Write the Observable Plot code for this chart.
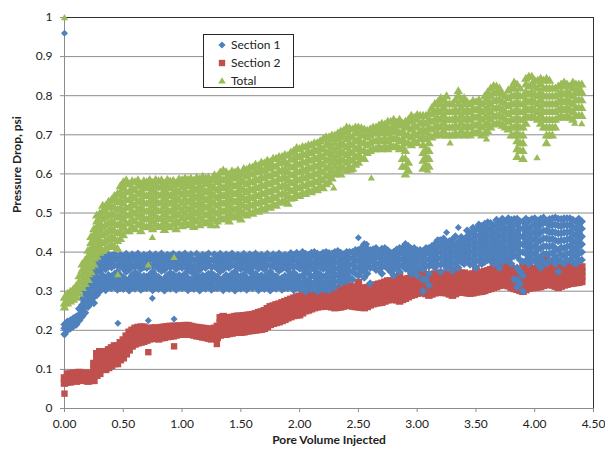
<!DOCTYPE html>
<html><head><meta charset="utf-8">
<script src="https://cdn.jsdelivr.net/npm/d3@7"></script>
<script src="https://cdn.jsdelivr.net/npm/@observablehq/plot@0.6"></script>
<style>
body{margin:0;background:#fff;}
#wrap{position:relative;width:605px;height:451px;font-family:Lato,"Open Sans",sans-serif;color:#222;}
#legend{position:absolute;left:203px;top:34px;width:91px;height:54px;border:1px solid #262626;background:#fff;box-sizing:border-box;font-size:12px;}
.item{position:absolute;left:0;height:16px;line-height:16px;white-space:nowrap;}
.item svg{position:absolute;left:13px;top:3px;}
.item span{position:absolute;left:27px;top:0;}
</style></head><body><div id="wrap"></div>
<script>
// ---- data ----
const seriesNames = ["Section 1", "Section 2", "Total"];
const xTicks = [0, 0.5, 1, 1.5, 2, 2.5, 3, 3.5, 4, 4.5];
const yTicks = [0, 0.1, 0.2, 0.3, 0.4, 0.5, 0.6, 0.7, 0.8, 0.9, 1];

// sample columns (pore volume injected)
const pv = [0.00,0.05,0.10,0.15,0.20,0.25,0.30,0.35,0.40,0.45,0.50,0.55,0.60,0.65,0.70,0.75,0.80,0.85,0.90,0.95,
1.00,1.05,1.10,1.15,1.20,1.25,1.30,1.35,1.40,1.45,1.50,1.55,1.60,1.65,1.70,1.75,1.80,1.85,1.90,1.95,
2.00,2.05,2.10,2.15,2.20,2.25,2.30,2.35,2.40,2.45,2.50,2.55,2.60,2.65,2.70,2.75,2.80,2.85,2.90,2.95,
3.00,3.05,3.10,3.15,3.20,3.25,3.30,3.35,3.40,3.45,3.50,3.55,3.60,3.65,3.70,3.75,3.80,3.85,3.90,3.95,
4.00,4.05,4.10,4.15,4.20,4.25,4.30,4.35,4.40];
const pvMid = [0.025,0.075,0.125,0.175,0.225,0.275,0.325,0.375,0.425,0.475,0.525,0.575,0.625,0.675,0.725,0.775,0.825,0.875,0.925,0.975,
1.025,1.075,1.125,1.175,1.225,1.275,1.325,1.375,1.425,1.475,1.525,1.575,1.625,1.675,1.725,1.775,1.825,1.875,1.925,1.975,
2.025,2.075,2.125,2.175,2.225,2.275,2.325,2.375,2.425,2.475,2.525,2.575,2.625,2.675,2.725,2.775,2.825,2.875,2.925,2.975,
3.025,3.075,3.125,3.175,3.225,3.275,3.325,3.375,3.425,3.475,3.525,3.575,3.625,3.675,3.725,3.775,3.825,3.875,3.925,3.975,
4.025,4.075,4.125,4.175,4.225,4.275,4.325,4.375];

const section1 = [
[.19,.205,.215],[.205,.215,.225],[.215,.225,.235],[.235,.25,.265,.28],[.26,.275,.29,.305,.32],
[.27,.285,.30,.315,.33,.345,.36],[.30,.315,.33,.35,.365,.38,.39],
[.303,.318,.333,.356,.371,.387],[.308,.323,.338,.361,.376,.39],[.304,.319,.334,.349,.366,.382],
[.306,.32,.336,.358,.373,.389],[.302,.317,.331,.355,.37,.386],[.307,.322,.338,.347,.362,.378,.39],
[.304,.319,.334,.357,.372,.388],[.308,.323,.337,.36,.375,.39],[.303,.318,.333,.35,.366,.383],
[.306,.321,.336,.358,.373,.389],[.302,.318,.332,.355,.37,.386],[.307,.322,.338,.346,.361,.377,.39],
[.304,.319,.335,.357,.372,.388],[.308,.323,.337,.36,.375,.39],[.303,.318,.333,.356,.371,.386],
[.306,.32,.336,.35,.364,.38],[.302,.317,.331,.355,.37,.387],[.307,.322,.338,.36,.376,.39],
[.304,.319,.334,.346,.362,.379],[.308,.323,.337,.358,.373,.389],[.303,.318,.333,.356,.371,.386],
[.306,.321,.336,.36,.375,.39],[.302,.317,.332,.35,.366,.383],[.307,.322,.338,.357,.372,.388],
[.304,.319,.334,.355,.37,.386],[.308,.323,.337,.346,.361,.377,.39],[.303,.318,.333,.358,.373,.389],
[.306,.32,.336,.356,.371,.387],[.302,.317,.331,.35,.366,.382],[.307,.322,.338,.36,.375,.39],
[.304,.319,.334,.357,.372,.388],[.308,.323,.337,.355,.37,.386],[.303,.318,.333,.347,.362,.378,.392],
[.306,.321,.336,.358,.374,.393],
[.30,.315,.33,.35,.365,.38,.395],[.305,.32,.338,.358,.373,.388,.398],[.30,.316,.332,.348,.366,.382,.396],
[.304,.32,.336,.357,.372,.387,.398],[.302,.318,.334,.352,.368,.384,.397],[.31,.325,.34,.358,.374,.39,.40],
[.32,.335,.35,.366,.382,.398],[.325,.34,.356,.372,.388,.40],[.33,.35,.368,.384,.40],
[.34,.36,.378,.394,.405],[.335,.355,.372,.39,.40,.42],[.32,.36,.376,.392,.405],
[.355,.37,.386,.40,.41],[.345,.362,.378,.394,.408],[.358,.374,.39,.404],
[.34,.356,.372,.388,.40],[.35,.366,.382,.398,.41],[.358,.374,.39,.404,.42],
[.345,.362,.378,.394,.408],[.34,.358,.374,.39,.404],[.30,.33,.356,.372,.388,.402],
[.315,.345,.364,.38,.396,.41],[.36,.376,.392,.406,.42],[.35,.368,.384,.40,.415,.43],
[.36,.376,.392,.408,.425],[.352,.37,.386,.402,.418,.432],[.36,.378,.394,.41,.426],
[.37,.386,.40,.416,.432],[.368,.384,.40,.416,.432,.448],[.36,.378,.394,.41,.426,.442,.458],
[.37,.386,.402,.418,.434,.45,.466],[.38,.396,.412,.428,.444,.46,.476],[.37,.386,.402,.418,.434,.45,.468],
[.36,.378,.394,.41,.426,.442,.458,.474],[.38,.396,.412,.428,.444,.46,.478],[.37,.386,.402,.418,.434,.45,.466,.482],
[.31,.33,.36,.39,.41,.43,.45,.47,.485],[.30,.34,.375,.40,.42,.44,.46,.478],[.37,.388,.406,.424,.442,.46,.48],
[.38,.398,.416,.434,.452,.47,.486],[.36,.385,.41,.43,.45,.47,.485],[.37,.395,.415,.435,.455,.475],
[.38,.398,.416,.434,.452,.47,.486],[.35,.38,.405,.428,.448,.468,.485],[.37,.39,.41,.43,.45,.47,.486],
[.38,.398,.416,.434,.452,.47,.486],[.37,.388,.406,.424,.442,.46,.478],[.38,.40,.42,.44,.46,.478]
];
const section1Mid = [
[.20,.212,.222],[.21,.22,.23],[.225,.24,.255],[.245,.26,.275,.29,.30],[.27,.285,.30,.315,.33,.345],
[.29,.305,.32,.335,.35,.365,.38,.39],[.31,.325,.34,.36,.375,.39],
[.31,.326,.341,.364,.379,.394],[.312,.328,.344,.366,.381,.395],[.309,.325,.34,.363,.378,.393],
[.311,.327,.35,.366,.382,.395],[.31,.325,.341,.364,.379,.394],[.313,.329,.344,.367,.382,.396],
[.309,.324,.339,.362,.377,.393],[.311,.326,.342,.365,.38,.395],[.31,.325,.34,.363,.378,.394],
[.312,.328,.352,.367,.383,.396],[.309,.325,.34,.364,.379,.393],[.311,.327,.343,.366,.381,.395],
[.31,.326,.341,.363,.378,.394],[.312,.328,.344,.367,.382,.396],[.309,.324,.35,.365,.38,.394],
[.311,.326,.342,.364,.379,.395],[.31,.325,.34,.363,.378,.393],[.312,.328,.344,.366,.381,.396],
[.309,.325,.34,.364,.379,.394],[.311,.327,.351,.366,.382,.395],[.31,.326,.341,.363,.378,.394],
[.312,.328,.344,.367,.382,.396],[.309,.324,.339,.362,.377,.393],[.311,.326,.342,.365,.38,.395],
[.31,.325,.35,.364,.379,.394],[.312,.328,.344,.366,.381,.396],[.309,.325,.34,.363,.378,.393],
[.311,.327,.343,.366,.381,.395],[.31,.326,.341,.364,.379,.394],[.312,.328,.352,.367,.382,.396],
[.309,.324,.339,.362,.377,.393],[.311,.326,.342,.365,.38,.397],[.31,.325,.34,.364,.38,.398],
[.307,.322,.34,.358,.372,.386,.40],[.31,.326,.345,.362,.378,.393],[.306,.322,.34,.356,.372,.39,.40],
[.31,.326,.342,.362,.378,.393],[.307,.323,.34,.36,.376,.392,.40],[.315,.33,.347,.365,.38,.396],
[.325,.342,.358,.374,.39,.402],[.33,.346,.362,.378,.394],[.335,.352,.368,.384,.40],
[.345,.362,.378,.394,.405],[.35,.366,.382,.398,.41],[.345,.364,.38,.396,.408],
[.362,.378,.394,.407],[.355,.37,.386,.402],[.365,.381,.397,.41],
[.35,.366,.382,.398],[.36,.376,.392,.406],[.365,.381,.397,.41],
[.355,.37,.386,.402,.415],[.35,.366,.382,.398,.41],[.36,.376,.392,.405],
[.33,.366,.382,.398,.41],[.37,.386,.402,.415],[.368,.384,.40,.415,.43],
[.37,.386,.402,.418,.434],[.365,.38,.396,.412,.428],[.37,.386,.402,.418,.44],
[.375,.39,.406,.422,.438],[.376,.392,.408,.424,.44,.455],[.37,.386,.402,.418,.434,.45,.462],
[.378,.394,.41,.426,.442,.458,.47],[.375,.39,.406,.422,.438,.454,.472],[.378,.394,.41,.426,.442,.458,.474],
[.374,.39,.406,.422,.438,.454,.47,.482],[.376,.392,.408,.424,.44,.456,.472,.485],[.378,.394,.41,.426,.442,.458,.474,.486],
[.33,.39,.406,.422,.438,.454,.47,.484],[.32,.35,.38,.40,.42,.44,.46,.478],[.378,.396,.414,.432,.45,.468,.485],
[.376,.394,.412,.43,.448,.466,.484],[.37,.39,.408,.426,.444,.462,.48],[.375,.395,.415,.435,.455,.475,.488],
[.378,.396,.414,.432,.45,.468,.484],[.37,.39,.41,.43,.45,.47,.488],[.376,.394,.412,.43,.448,.466,.484],
[.378,.396,.414,.432,.45,.468,.486],[.374,.392,.41,.428,.446,.464,.482],[.378,.396,.414,.432,.45,.468,.485]
];
const section1Extra = [[0,0.96],[0.454,0.218],[0.713,0.225],[0.747,0.282],[0.932,0.229],
[2.50,0.437],[2.57,0.42],[3.19,0.43],[3.25,0.45],[3.35,0.463]];

const section2 = [
[.065,.078],[.068,.078,.088],[.07,.08,.09],[.072,.082,.09],[.07,.08,.088],
[.072,.085,.10,.115],[.09,.105,.12,.135,.145],[.10,.115,.13,.145],[.11,.125,.14,.155],[.115,.13,.145,.16],
[.13,.145,.16,.175],[.15,.165,.18,.195],[.165,.18,.195,.205],[.17,.185,.198,.208],[.175,.19,.203],
[.18,.193,.205],[.178,.192,.205],[.182,.196,.208],[.185,.198,.21],[.188,.20,.21],
[.19,.20,.21],[.19,.202,.212],[.188,.198,.208],[.185,.196,.206],[.182,.194,.204],
[.178,.19,.202],[.182,.196,.21],[.19,.205,.22,.235],[.192,.205,.218,.23],[.195,.208,.222,.235],
[.195,.208,.222,.236],[.198,.21,.224,.238],[.20,.213,.227,.24],[.202,.215,.23,.245],[.205,.22,.235,.25],
[.215,.23,.245,.26],[.22,.235,.25,.265],[.225,.24,.255,.27],[.232,.247,.262,.276],[.238,.252,.267,.282],
[.24,.256,.272,.287],[.25,.265,.28,.295],[.255,.27,.286,.30],[.26,.275,.29,.305],[.262,.278,.294,.31],
[.262,.278,.294,.31],[.258,.274,.29,.306],[.26,.276,.292,.308],[.265,.28,.296,.315,.336],[.262,.278,.294,.31],
[.26,.276,.292,.31,.322],[.258,.274,.29,.306],[.265,.28,.296,.312],[.27,.286,.30,.316],[.272,.288,.304,.32],
[.278,.294,.31,.326],[.28,.296,.31,.325],[.275,.292,.31,.328,.34],[.282,.298,.314,.33],[.29,.305,.32,.335],
[.295,.31,.326,.342],[.298,.314,.33,.346],[.29,.306,.322,.338],[.296,.312,.328,.344],[.298,.314,.33,.346],
[.296,.312,.328,.344],[.29,.306,.322,.338,.352],[.298,.314,.33,.346],[.298,.314,.33,.346],[.295,.31,.325,.34],
[.298,.314,.33,.346,.358],[.30,.316,.332,.348],[.305,.32,.336,.352],[.31,.326,.342,.358,.37],[.315,.33,.346,.362],
[.318,.334,.35,.366,.378],[.31,.326,.342,.358],[.305,.32,.336,.352],[.30,.316,.332,.35,.37],[.308,.324,.34,.356,.375],
[.31,.326,.342,.358],[.312,.328,.344,.36,.372],[.318,.334,.35,.366,.382],[.316,.332,.348,.364],[.31,.326,.342,.358],
[.316,.332,.348,.364],[.32,.334,.348,.362],[.322,.335,.348,.36],[.325,.338,.35,.362]
];
const section2Mid = [
[.068,.078,.088],[.072,.082,.09],[.074,.084,.092],[.073,.083,.09],[.072,.082,.09],
[.085,.10,.115,.13,.14],[.105,.12,.135,.145],[.105,.12,.135,.15],[.115,.13,.145,.16],[.125,.14,.155,.168],
[.14,.155,.17,.185],[.16,.175,.19,.20],[.168,.182,.196,.207],[.172,.186,.20,.208],[.178,.192,.205],
[.18,.194,.206],[.181,.195,.207],[.184,.197,.209],[.186,.199,.21],[.19,.201,.211],
[.19,.201,.212],[.19,.20,.21],[.186,.197,.207],[.183,.195,.205],[.18,.192,.203],
[.18,.193,.205],[.188,.202,.218,.232],[.19,.205,.22,.232],[.193,.206,.22,.233],[.195,.208,.222,.236],
[.196,.21,.223,.237],[.199,.212,.226,.239],[.201,.214,.228,.242],[.203,.218,.232,.247],[.21,.225,.24,.255],
[.218,.232,.247,.262],[.222,.237,.252,.267],[.228,.243,.258,.273],[.235,.25,.265,.279],[.239,.254,.27,.285],
[.245,.26,.276,.29],[.252,.268,.283,.298],[.258,.273,.288,.303],[.261,.277,.292,.308],[.262,.278,.294,.31],
[.26,.276,.292,.308],[.259,.275,.291,.307],[.262,.278,.294,.312],[.264,.28,.296,.313],[.261,.277,.293,.31],
[.259,.275,.291,.308],[.261,.277,.293,.309],[.268,.283,.298,.314],[.271,.287,.302,.318],[.275,.291,.307,.323],
[.279,.295,.31,.326],[.278,.294,.31,.326],[.279,.295,.312,.329],[.286,.302,.317,.332],[.292,.308,.323,.338],
[.296,.312,.328,.344],[.294,.31,.326,.342],[.293,.309,.325,.341],[.297,.313,.329,.345],[.297,.313,.329,.345],
[.293,.309,.325,.341],[.294,.31,.326,.342],[.298,.314,.33,.346],[.296,.312,.328,.343],[.296,.312,.328,.344],
[.299,.315,.331,.347],[.302,.318,.334,.35],[.307,.323,.339,.355],[.312,.328,.344,.36],[.316,.332,.348,.364],
[.314,.33,.346,.362],[.307,.323,.339,.355],[.302,.318,.334,.351],[.304,.32,.336,.353],[.309,.325,.341,.357],
[.311,.327,.343,.359],[.315,.331,.347,.363],[.317,.333,.349,.365],[.313,.329,.345,.361],[.313,.329,.345,.361],
[.318,.333,.348,.363],[.321,.334,.348,.361],[.323,.336,.349,.361]
];
const section2Extra = [[0,0.038],[0.713,0.144],[0.932,0.159],[1.296,0.165]];

const total = [
[.26,.27,.285],[.275,.287,.30],[.285,.30,.315],[.31,.325,.34,.355,.37],[.33,.345,.36,.375,.39,.405],
[.37,.385,.40,.415,.43,.445,.46],[.40,.415,.43,.445,.46,.475,.49,.50],[.41,.43,.45,.47,.49,.505,.52],
[.42,.44,.46,.48,.50,.52,.535],[.41,.43,.45,.47,.49,.51,.53,.55],
[.445,.465,.485,.505,.525,.545,.565,.58],[.455,.475,.495,.515,.535,.555,.575],[.46,.48,.50,.52,.54,.56,.58],
[.455,.475,.495,.515,.535,.555,.575],[.465,.485,.505,.525,.545,.565,.58],[.46,.48,.50,.52,.54,.56,.578],
[.466,.486,.506,.526,.546,.566,.583],[.458,.478,.498,.518,.538,.558,.577],[.465,.485,.505,.525,.545,.565,.582],
[.46,.48,.50,.52,.54,.56,.578],[.468,.488,.508,.528,.548,.568,.585],[.47,.49,.51,.53,.55,.57,.586],
[.466,.486,.506,.526,.546,.566,.584],[.47,.49,.51,.53,.55,.57,.588],[.475,.495,.515,.535,.555,.575,.59],
[.47,.49,.51,.53,.55,.57,.586],[.48,.50,.52,.54,.56,.58,.595],[.485,.505,.525,.545,.565,.585,.61],
[.48,.50,.52,.54,.56,.58,.60],[.49,.51,.53,.55,.57,.59,.605],[.485,.505,.525,.545,.565,.585,.60],
[.495,.515,.535,.555,.575,.595,.612],[.50,.52,.54,.56,.58,.60,.618],[.505,.525,.545,.565,.585,.605,.622],
[.51,.53,.55,.57,.59,.61,.628],[.515,.535,.555,.575,.595,.615,.632],[.52,.54,.56,.58,.60,.62,.64],
[.53,.55,.57,.59,.61,.63,.645],[.525,.545,.565,.585,.605,.625,.648],[.54,.56,.58,.60,.62,.64,.66],
[.545,.565,.585,.605,.625,.645,.665],[.55,.57,.59,.61,.63,.65,.67],[.555,.575,.595,.615,.635,.655,.675],
[.56,.58,.60,.62,.64,.66,.68],[.565,.585,.605,.625,.645,.665,.69],[.58,.60,.62,.64,.66,.68,.695],
[.60,.62,.64,.66,.68,.70],[.60,.62,.64,.66,.68,.70,.71],[.61,.63,.65,.67,.69,.71,.72],
[.615,.635,.655,.675,.695,.715],[.63,.65,.67,.69,.71,.72],[.64,.66,.68,.70,.715],[.66,.68,.70,.715],
[.665,.685,.705,.72],[.665,.685,.705,.72,.73],[.665,.685,.705,.72,.735],[.67,.69,.71,.725,.74],
[.665,.685,.705,.725,.74],[.60,.62,.64,.66,.68,.70,.72,.735],[.675,.695,.715,.735,.75],[.68,.70,.72,.74,.752],
[.615,.635,.655,.675,.695,.715,.735,.75],[.62,.64,.66,.68,.70,.72,.74,.755],[.70,.72,.74,.76,.78],
[.70,.72,.74,.76,.78,.795],[.70,.72,.74,.76,.78,.80],[.70,.72,.74,.76,.78],[.70,.72,.74,.76,.78,.80,.813],
[.70,.72,.74,.76,.78,.795],[.70,.72,.74,.76,.78],[.705,.725,.745,.765,.785],[.70,.72,.74,.76,.78],
[.71,.73,.75,.77,.79,.81],[.728,.748,.768,.788,.808,.826],[.73,.75,.77,.79,.81,.82],[.72,.74,.76,.78,.80],
[.70,.72,.74,.76,.78,.80,.82],[.645,.665,.685,.705,.725,.745,.765,.785,.805,.83],[.64,.66,.68,.70,.72,.74,.76,.78,.80],
[.745,.765,.785,.805,.825,.85],[.745,.765,.785,.805,.825,.84],[.73,.75,.77,.79,.81,.83,.845],
[.68,.70,.72,.74,.76,.78,.80,.82,.845],[.70,.72,.74,.76,.78,.80,.82],[.745,.765,.785,.805,.825],
[.745,.765,.785,.805,.825,.835],[.745,.765,.785,.805,.825],[.75,.77,.79,.81,.83],[.75,.77,.79,.81,.83]
];
const totalMid = [
[.27,.282,.295],[.28,.293,.306],[.295,.31,.325,.34],[.32,.335,.35,.365,.38],[.35,.365,.38,.395,.41,.425,.44],
[.39,.405,.42,.435,.45,.465,.48,.495],[.405,.425,.445,.465,.485,.505,.52],[.415,.435,.455,.475,.495,.515,.53],
[.415,.435,.455,.475,.495,.515,.535,.545],[.435,.455,.475,.495,.515,.535,.555,.57],
[.455,.475,.495,.515,.535,.555,.575,.585],[.465,.485,.505,.525,.545,.565,.583],[.47,.49,.51,.53,.55,.57,.585],
[.468,.488,.508,.528,.548,.568,.583],[.47,.49,.51,.53,.55,.57,.586],[.472,.492,.512,.532,.552,.572,.586],
[.468,.488,.508,.528,.548,.568,.585],[.47,.49,.51,.53,.55,.57,.586],[.472,.492,.512,.532,.552,.572,.584],
[.475,.495,.515,.535,.555,.575,.588],[.478,.498,.518,.538,.558,.578,.59],[.476,.496,.516,.536,.556,.576,.59],
[.48,.50,.52,.54,.56,.58,.592],[.482,.502,.522,.542,.562,.582,.594],[.48,.50,.52,.54,.56,.58,.592],
[.485,.505,.525,.545,.565,.585,.598],[.49,.51,.53,.55,.57,.59,.605],[.49,.51,.53,.55,.57,.59,.606],
[.494,.514,.534,.554,.574,.594,.608],[.495,.515,.535,.555,.575,.595,.61],[.50,.52,.54,.56,.58,.60,.614],
[.503,.523,.543,.563,.583,.603,.618],[.508,.528,.548,.568,.588,.608,.625],[.512,.532,.552,.572,.592,.612,.63],
[.518,.538,.558,.578,.598,.618,.635],[.522,.542,.562,.582,.602,.622,.64],[.528,.548,.568,.588,.608,.628,.645],
[.532,.552,.572,.592,.612,.632,.65],[.538,.558,.578,.598,.618,.638,.656],[.548,.568,.588,.608,.628,.648,.668],
[.552,.572,.592,.612,.632,.652,.67],[.558,.578,.598,.618,.638,.658,.675],[.562,.582,.602,.622,.642,.662,.68],
[.57,.59,.61,.63,.65,.67,.685],[.575,.595,.615,.635,.655,.675,.695],[.59,.61,.63,.65,.67,.69,.70],
[.61,.63,.65,.67,.69,.705],[.615,.635,.655,.675,.695,.712],[.62,.64,.66,.68,.70,.718],
[.625,.645,.665,.685,.705,.72],[.64,.66,.68,.70,.718],[.655,.675,.695,.712],[.665,.685,.705,.72],
[.67,.69,.71,.725],[.672,.692,.712,.728],[.675,.695,.715,.735],[.672,.692,.712,.732],
[.62,.64,.67,.69,.71,.73],[.61,.63,.68,.70,.72,.74],[.685,.705,.725,.745],[.69,.71,.73,.75],
[.625,.645,.665,.69,.71,.73,.75],[.695,.715,.735,.755,.77],[.705,.725,.745,.765,.785],[.71,.73,.75,.77,.79],
[.70,.72,.74,.76,.78],[.705,.725,.745,.765,.79],[.71,.73,.75,.77,.79],[.705,.725,.745,.765,.785],
[.708,.728,.748,.768,.788],[.71,.73,.75,.77,.79],[.705,.725,.745,.765,.785,.80],[.72,.74,.76,.78,.80,.82],
[.73,.75,.77,.79,.81,.825],[.725,.745,.765,.785,.805],[.715,.735,.755,.775,.795,.815],
[.70,.72,.74,.76,.78,.80,.82,.835],[.66,.68,.70,.72,.74,.76,.78,.80,.82],[.73,.75,.77,.79,.81,.83,.845],
[.75,.77,.79,.81,.83,.85],[.74,.76,.78,.80,.82,.84],[.72,.74,.76,.78,.80,.82,.84],
[.70,.72,.74,.76,.78,.80,.82,.84],[.72,.74,.76,.78,.80,.82],[.75,.77,.79,.81,.83],
[.75,.77,.79,.81,.83],[.74,.76,.78,.80,.82,.835],[.75,.77,.79,.81,.82,.83]
];
const totalExtra = [[0,1.0],[0.454,0.343],[0.713,0.368],[0.747,0.438],[0.867,0.464],[0.932,0.387],[1.296,0.468],
[2.29,0.565],[2.44,0.61],[2.61,0.59],[3.09,0.61],[3.28,0.68],[3.59,0.69],[4.02,0.642],[4.34,0.73],[4.40,0.729]];

// ---- build rows ----
function rows(lists, mids, name) {
  const out = [];
  pv.forEach((x, i) => lists[i].forEach(y => out.push({x, y, series: name})));
  pvMid.forEach((x, i) => mids[i].forEach(y => out.push({x, y, series: name})));
  return out;
}
const pts = (extra, name) => extra.map(([x, y]) => ({x, y, series: name}));
const d1 = rows(section1, section1Mid, seriesNames[0]);
const d2 = rows(section2, section2Mid, seriesNames[1]);
const d3t = rows(total, totalMid, seriesNames[2]);
const e1 = pts(section1Extra, seriesNames[0]);
const e2 = pts(section2Extra, seriesNames[1]);
const e3 = pts(totalExtra, seriesNames[2]);

const colors = ["#4F81BD", "#C0504D", "#9BBB59"];
// marker shapes; k scales the shape
const mkDiamond = k => ({draw(c){const h=3.5*k;c.moveTo(0,-h);c.lineTo(h,0);c.lineTo(0,h);c.lineTo(-h,0);c.closePath();}});
const mkSquare = k => ({draw(c){const h=3.2*k;c.moveTo(-h,-h);c.lineTo(h,-h);c.lineTo(h,h);c.lineTo(-h,h);c.closePath();}});
const mkTriangle = k => ({draw(c){c.moveTo(0,-3.4*k);c.lineTo(3.7*k,2.8*k);c.lineTo(-3.7*k,2.8*k);c.closePath();}});

const grid = "#8c8c8c";
const chart = Plot.plot({
  width: 605, height: 451,
  marginLeft: 64, marginRight: 12, marginTop: 17, marginBottom: 43,
  style: {fontFamily: "Lato, 'Open Sans', sans-serif", fontSize: "12px", color: "#222", background: "#fff", overflow: "visible"},
  x: {domain: [0, 4.5]},
  y: {domain: [0, 1]},
  marks: [
    Plot.ruleY(yTicks.filter(d => d > 0 && d < 1), {stroke: grid}),
    Plot.ruleY([0], {stroke: grid}),
    Plot.ruleX([0], {stroke: grid}),
    Plot.ruleY([1], {stroke: "#303030"}),
    Plot.ruleX([4.5], {stroke: "#303030"}),
    Plot.axisX({ticks: xTicks, tickFormat: d => d.toFixed(2), tickSize: 4, tickPadding: 7, stroke: grid, label: null}),
    Plot.axisY({ticks: yTicks, tickFormat: d => String(d), tickSize: 4, tickPadding: 8, stroke: grid, label: null}),
    Plot.dot(d2, {x: "x", y: "y", symbol: mkSquare(1.18), r: 3, fill: colors[1], stroke: "none"}),
    Plot.dot(e2, {x: "x", y: "y", symbol: mkSquare(1), r: 3, fill: colors[1], stroke: "none"}),
    Plot.dot(d1, {x: "x", y: "y", symbol: mkDiamond(1.2), r: 3, fill: colors[0], stroke: "none"}),
    Plot.dot(e1, {x: "x", y: "y", symbol: mkDiamond(1), r: 3, fill: colors[0], stroke: "none"}),
    Plot.dot(d3t, {x: "x", y: "y", symbol: mkTriangle(1.3), r: 3, fill: colors[2], stroke: "none"}),
    Plot.dot(e3, {x: "x", y: "y", symbol: mkTriangle(1), r: 3, fill: colors[2], stroke: "none"}),
    Plot.text(["Pore Volume Injected"], {text: d => d, frameAnchor: "bottom", dy: 35, fontWeight: "bold", fontSize: 12, fill: "#222"}),
    Plot.text(["Pressure Drop, psi"], {text: d => d, frameAnchor: "left", dx: -47, rotate: -90, fontWeight: "bold", fontSize: 12, fill: "#222"})
  ]
});
const wrap = document.getElementById("wrap");
wrap.appendChild(chart);

// legend
const legend = document.createElement("div");
legend.id = "legend";
const symPaths = [
  "M5,1.4L8.6,5L5,8.6L1.4,5Z",
  "M1.8,1.8H8.2V8.2H1.8Z",
  "M5,1.2L8.8,7.6H1.2Z"
];
const rowTops = [2, 19.5, 37.5];
seriesNames.forEach((name, i) => {
  const it = document.createElement("div");
  it.className = "item";
  it.style.top = rowTops[i] + "px";
  it.innerHTML = `<svg width="10" height="10"><path d="${symPaths[i]}" fill="${colors[i]}"/></svg><span>${name}</span>`;
  legend.appendChild(it);
});
wrap.appendChild(legend);
</script></body></html>
